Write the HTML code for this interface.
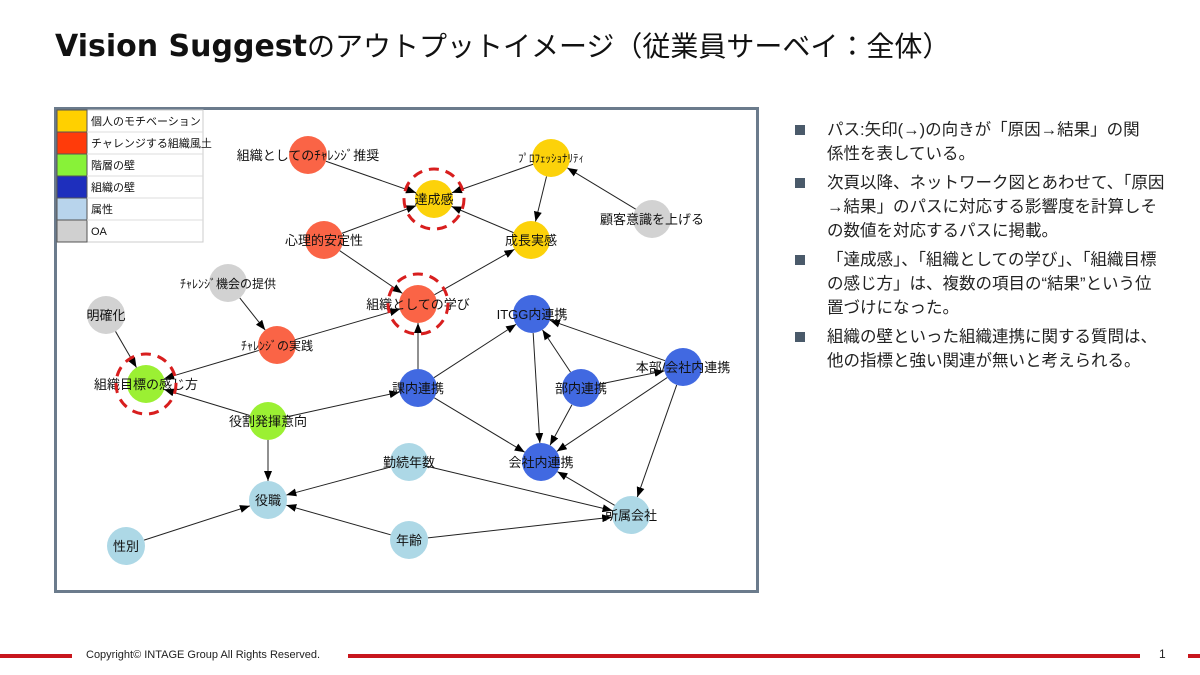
<!DOCTYPE html>
<html><head><meta charset="utf-8"><style>
body{margin:0;width:1200px;height:675px;background:#fff;overflow:hidden;position:relative;font-family:"Liberation Sans","Noto Sans CJK JP",sans-serif;}
.title{position:absolute;left:55px;top:25px;font-size:28px;color:#111;white-space:nowrap;}
.title b{font-weight:bold;font-family:"DejaVu Sans","Liberation Sans",sans-serif;font-size:30px;}
.bul{position:absolute;left:795px;top:118px;width:380px;font-size:16.5px;line-height:24px;color:#222;white-space:nowrap;}
.bul div{position:relative;padding-left:32px;margin-bottom:5px;}
.bul div:before{content:"";position:absolute;left:0;top:7px;width:10px;height:10px;background:#4a5a6a;}
.foot{position:absolute;top:649px;font-size:11px;color:#222;}
.rl{position:absolute;top:654px;height:4px;background:#c8161d;}
</style></head><body>
<div class="title"><b>Vision Suggest</b>のアウトプットイメージ（従業員サーベイ：全体）</div>
<svg width="1200" height="675" style="position:absolute;left:0;top:0" id="s">
<defs><marker id="a" markerWidth="10" markerHeight="8" refX="10" refY="4" orient="auto" markerUnits="userSpaceOnUse"><path d="M0,0L10,4L0,8z" fill="#000"/></marker></defs>
<rect x="55.5" y="108.5" width="702" height="483" fill="#fff" stroke="#6b7b8c" stroke-width="3"/>
<g id="edges" stroke="#222" stroke-width="1"></g>
<g id="nodes"></g>
<g font-size="13" fill="#111" font-family="Liberation Sans,Noto Sans CJK JP,sans-serif" text-anchor="middle">
<text x="308" y="160">組織としてのﾁｬﾚﾝｼﾞ推奨</text>
<text x="434" y="204">達成感</text>
<text x="551" y="162" font-size="11">ﾌﾟﾛﾌｪｯｼｮﾅﾘﾃｨ</text>
<text x="652" y="224">顧客意識を上げる</text>
<text x="531" y="245">成長実感</text>
<text x="324" y="245">心理的安定性</text>
<text x="228" y="288" font-size="12">ﾁｬﾚﾝｼﾞ機会の提供</text>
<text x="418" y="309">組織としての学び</text>
<text x="532" y="319">ITGG内連携</text>
<text x="106" y="320">明確化</text>
<text x="277" y="350" font-size="12">ﾁｬﾚﾝｼﾞの実践</text>
<text x="683" y="372">本部/会社内連携</text>
<text x="146" y="389">組織目標の感じ方</text>
<text x="418" y="393">課内連携</text>
<text x="581" y="393">部内連携</text>
<text x="268" y="426">役割発揮意向</text>
<text x="409" y="467">勤続年数</text>
<text x="541" y="467">会社内連携</text>
<text x="268" y="505">役職</text>
<text x="631" y="520">所属会社</text>
<text x="126" y="551">性別</text>
<text x="409" y="545">年齢</text>
</g>
<g fill="none" stroke="#d81e1e" stroke-width="3" stroke-dasharray="10,7">
<circle cx="434" cy="199" r="30"/><circle cx="418" cy="304" r="30"/><circle cx="146" cy="384" r="30"/>
</g>
<g font-size="11" fill="#111" font-family="Liberation Sans,Noto Sans CJK JP,sans-serif">
<rect x="57" y="110" width="146" height="132" fill="#fff" stroke="#ccc"/>
<rect x="57" y="110" width="30" height="22" fill="#ffd000" stroke="#555"/><text x="91" y="125">個人のモチベーション</text>
<rect x="57" y="132" width="30" height="22" fill="#ff3b0a" stroke="#555"/><text x="91" y="147">チャレンジする組織風土</text>
<rect x="57" y="154" width="30" height="22" fill="#88f238" stroke="#555"/><text x="91" y="169">階層の壁</text>
<rect x="57" y="176" width="30" height="22" fill="#1e2fbd" stroke="#555"/><text x="91" y="191">組織の壁</text>
<rect x="57" y="198" width="30" height="22" fill="#b8d4ec" stroke="#555"/><text x="91" y="213">属性</text>
<rect x="57" y="220" width="30" height="22" fill="#d0d0d0" stroke="#555"/><text x="91" y="235">OA</text>
<line x1="87" y1="132" x2="203" y2="132" stroke="#ddd"/><line x1="87" y1="154" x2="203" y2="154" stroke="#ddd"/><line x1="87" y1="176" x2="203" y2="176" stroke="#ddd"/><line x1="87" y1="198" x2="203" y2="198" stroke="#ddd"/><line x1="87" y1="220" x2="203" y2="220" stroke="#ddd"/>
</g>
</svg>
<div class="bul">
<div>パス:矢印(→)の向きが「原因→結果」の関<br>係性を表している。</div>
<div>次頁以降、ネットワーク図とあわせて、「原因<br>→結果」のパスに対応する影響度を計算しそ<br>の数値を対応するパスに掲載。</div>
<div>「達成感」、「組織としての学び」、「組織目標<br>の感じ方」は、複数の項目の“結果”という位<br>置づけになった。</div>
<div>組織の壁といった組織連携に関する質問は、<br>他の指標と強い関連が無いと考えられる。</div>
</div>
<div class="rl" style="left:0;width:72px"></div>
<div class="foot" style="left:86px">Copyright© INTAGE Group All Rights Reserved.</div>
<div class="rl" style="left:348px;width:792px"></div>
<div class="foot" style="left:1159px;font-size:12px;top:647px">1</div>
<div class="rl" style="left:1188px;width:12px"></div>
<script>
var R='#fa6446',Y='#fcd20a',G='#d2d2d2',B='#4169e1',L='#add8e6',GR='#9bf033';
var N={a:[308,155,R],b:[434,199,Y],c:[551,158,Y],d:[652,219,G],e:[531,240,Y],f:[324,240,R],g:[228,283,G],h:[418,304,R],i:[532,314,B],j:[106,315,G],k:[277,345,R],l:[683,367,B],m:[146,384,GR],n:[418,388,B],o:[581,388,B],p:[268,421,GR],q:[409,462,L],r:[541,462,B],s:[268,500,L],t:[631,515,L],u:[126,546,L],v:[409,540,L]};
var E='ab fb fh cb ce eb dc he gk kh km jm pm pn ps nh ni nr ir oi ol or li lr lt tr qs qt vs vt us'.split(' ');
var ns='http://www.w3.org/2000/svg',eg=document.getElementById('edges'),ng=document.getElementById('nodes');
E.forEach(function(e){var A=N[e[0]],C=N[e[1]],dx=C[0]-A[0],dy=C[1]-A[1],d=Math.sqrt(dx*dx+dy*dy),r=19;
var l=document.createElementNS(ns,'line');l.setAttribute('x1',A[0]+dx/d*r);l.setAttribute('y1',A[1]+dy/d*r);l.setAttribute('x2',C[0]-dx/d*r);l.setAttribute('y2',C[1]-dy/d*r);l.setAttribute('marker-end','url(#a)');eg.appendChild(l);});
for(var k in N){var c=document.createElementNS(ns,'circle');c.setAttribute('cx',N[k][0]);c.setAttribute('cy',N[k][1]);c.setAttribute('r',19);c.setAttribute('fill',N[k][2]);ng.appendChild(c);}
</script>
</body></html>
